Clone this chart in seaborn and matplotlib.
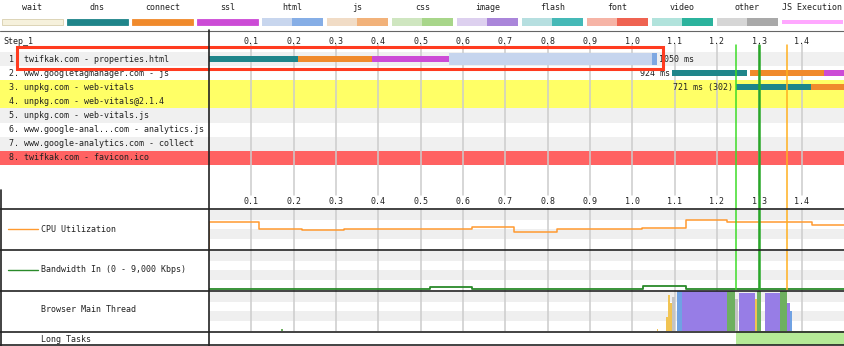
import matplotlib
matplotlib.use("Agg")
import matplotlib.pyplot as plt
import seaborn as sns
from matplotlib.patches import Rectangle
from matplotlib.lines import Line2D

# ---------------- data ----------------
legend_names = ["wait", "dns", "connect", "ssl", "html", "js", "css", "image",
                "flash", "font", "video", "other", "JS Execution"]
legend_light = ["#f6f1dc", "#1f858a", "#f08a2c", "#cc4bd6", "#c8d6ee", "#f1dcc6",
                "#cfe6c0", "#ddd0ef", "#b6dfe0", "#f6b4a6", "#b1e3dc", "#d6d6d6", "#ffa8ff"]
legend_dark = [None, None, None, None, "#86aee6", "#f2b27a", "#a8d68a", "#aa86da",
               "#45b9b7", "#ef6351", "#2bb39d", "#a9a9a9", None]

requests = ["twifkak.com - properties.html",
            "www.googletagmanager.com - js",
            "unpkg.com - web-vitals",
            "unpkg.com - web-vitals@2.1.4",
            "unpkg.com - web-vitals.js",
            "www.google-anal...com - analytics.js",
            "www.google-analytics.com - collect",
            "twifkak.com - favicon.ico"]
row_colors = ["#f0f0f0", "#ffffff", "#ffff66", "#ffff66",
              "#f0f0f0", "#ffffff", "#f0f0f0", "#ff6262"]

# waterfall segments (row index, start s, end s, kind)
seg_row = [0, 0, 0, 0, 0, 1, 1, 1, 2, 2]
seg_start = [0.000, 0.210, 0.385, 0.567, 1.047, 1.094, 1.279, 1.452, 1.246, 1.423]
seg_end = [0.210, 0.385, 0.567, 1.047, 1.058, 1.272, 1.452, 1.503, 1.423, 1.503]
seg_kind = ["dns", "connect", "ssl", "html_light", "html_dark",
            "dns", "connect", "ssl", "dns", "connect"]

bar_label_row = [0, 1, 2]
bar_label_text = ["1050 ms", "924 ms", "721 ms (302)"]
bar_label_t = [1.062, 1.088, 1.239]
bar_label_ha = ["left", "right", "right"]

tick_vals = [0.1, 0.2, 0.3, 0.4, 0.5, 0.6, 0.7, 0.8, 0.9, 1.0, 1.1, 1.2, 1.3, 1.4]
tick_labels = ["0.1", "0.2", "0.3", "0.4", "0.5", "0.6", "0.7", "0.8", "0.9",
               "1.0", "1.1", "1.2", "1.3", "1.4"]

mark_t = [1.246, 1.300, 1.366]
mark_color = ["#3ddc28", "#28a828", "#ffb020"]
mark_lw = [1.1, 1.8, 1.1]

cpu_t = [0.0, 0.0, 0.118, 0.220, 0.320, 0.622, 0.720, 0.823, 1.024, 1.127, 1.224, 1.425, 1.503]
cpu_v = [0, 67, 50, 47, 51, 54, 43, 50, 52, 72, 68, 60, 60]

bw_t = [0.0, 0.522, 0.622, 1.026, 1.127, 1.503]
bw_v = [0, 380, 0, 780, 0, 0]

mt_start = [0.170, 1.058, 1.080, 1.084, 1.088, 1.094, 1.105, 1.117, 1.224, 1.243,
            1.252, 1.290, 1.294, 1.313, 1.349, 1.366, 1.372]
mt_end = [0.174, 1.061, 1.084, 1.088, 1.093, 1.101, 1.117, 1.224, 1.243, 1.250,
          1.290, 1.294, 1.304, 1.349, 1.366, 1.372, 1.378]
mt_cat = ["paint", "script", "script", "script", "script", "other", "parse", "layout",
          "paint", "other", "layout", "script", "paint", "layout", "paint", "layout", "parse"]
mt_frac = [0.05, 0.05, 0.35, 0.9, 0.7, 0.85, 1.0, 1.0, 1.0, 0.8, 0.95, 0.8, 1.0,
           0.95, 1.0, 0.7, 0.5]

long_start = [1.246]
long_end = [1.503]

section_labels = ["CPU Utilization", "Bandwidth In (0 - 9,000 Kbps)",
                  "Browser Main Thread", "Long Tasks"]

# ---------------- style ----------------
sns.set_theme(style="white")
plt.rcParams['font.family'] = ['DejaVu Sans Mono']
FS = 6
TXT = "#222222"

kind_color = {"dns": "#1f858a", "connect": "#f08a2c", "ssl": "#cc4bd6",
              "html_light": "#c6d5ee", "html_dark": "#7ea8e2"}
kind_height = {"dns": 0.43, "connect": 0.43, "ssl": 0.43,
               "html_light": 0.85, "html_dark": 0.85}
mt_colors = {"script": "#f1c453", "layout": "#977de6", "paint": "#6eb060",
             "parse": "#70a2e3", "other": "#c4c4c4"}

W, H = 845, 346
fig = plt.figure(figsize=(W / 100, H / 100), dpi=100, facecolor="white")


def px_ax(x0, y0, x1, y1):
    ax = fig.add_axes([x0 / W, 1 - y1 / H, (x1 - x0) / W, (y1 - y0) / H])
    ax.set_xticks([])
    ax.set_yticks([])
    for s in ax.spines.values():
        s.set_visible(False)
    ax.patch.set_alpha(0)
    return ax


TMAX = (845 - 209) / 423.3
ROW_H = 14.12


def prow(ypx):
    return (ypx - 52) / ROW_H - 0.5


# ---------------- legend ----------------
leg = px_ax(0, 0, 845, 30)
leg.set_xlim(0, 845)
leg.set_ylim(30, 0)
for i, name in enumerate(legend_names):
    x0 = 2 + 65 * i
    leg.text(x0 + 30.5, 7.5, name, ha="center", va="center", fontsize=FS, color=TXT)
    if name == "JS Execution":
        leg.add_patch(Rectangle((x0, 19.5), 61, 4, color=legend_light[i], lw=0))
    elif legend_dark[i] is None:
        ec = "#d8cfae" if name == "wait" else legend_light[i]
        leg.add_patch(Rectangle((x0, 18.5), 61, 6.5, facecolor=legend_light[i],
                                edgecolor=ec, lw=0.6))
    else:
        leg.add_patch(Rectangle((x0, 18), 30.5, 7.5, color=legend_light[i], lw=0))
        leg.add_patch(Rectangle((x0 + 30.5, 18), 30.5, 7.5, color=legend_dark[i], lw=0))

# ---------------- waterfall ----------------
wf = px_ax(209, 30, 845, 208)
wf.set_xlim(0, TMAX)
wf.set_ylim(prow(208), prow(30))
lab = px_ax(0, 30, 209, 208)
lab.set_xlim(0, 209)
lab.set_ylim(prow(208), prow(30))

for i, c in enumerate(row_colors):
    wf.axhspan(i - 0.5, i + 0.5, color=c, lw=0, zorder=0)
    lab.axhspan(i - 0.5, i + 0.5, color=c, lw=0, zorder=0)
    lab.text(9, i, f"{i + 1}. {requests[i]}", ha="left", va="center",
             fontsize=FS, color=TXT)
lab.text(3, prow(42), "Step_1", ha="left", va="center", fontsize=FS, color=TXT)

for t, l in zip(tick_vals, tick_labels):
    wf.plot([t, t], [prow(44), prow(195)], color="#cccccc", lw=1.1, zorder=1)
    wf.text(t, prow(42), l, ha="center", va="center", fontsize=FS, color=TXT)
    wf.text(t, prow(201.5), l, ha="center", va="center", fontsize=FS, color=TXT)

for r, s, e, k in zip(seg_row, seg_start, seg_end, seg_kind):
    wf.barh(r, e - s, left=s, height=kind_height[k], color=kind_color[k],
            lw=0, zorder=3)

for r, txt, t, ha in zip(bar_label_row, bar_label_text, bar_label_t, bar_label_ha):
    wf.text(t, r, txt, ha=ha, va="center", fontsize=FS, color=TXT, zorder=4)

for t, c, lw in zip(mark_t, mark_color, mark_lw):
    wf.plot([t, t], [prow(45), prow(208)], color=c, lw=lw, zorder=5)

# ---------------- lower sections ----------------
cpu = px_ax(209, 208, 845, 249)
bw = px_ax(209, 249, 845, 290)
mt = px_ax(209, 290, 845, 331)
lt = px_ax(209, 331, 845, 345)
for ax in (cpu, bw, mt, lt):
    ax.set_xlim(0, TMAX)
for ax in (cpu, bw, mt):
    for f0, f1 in ((0.244, 0.488), (0.707, 0.95)):
        ax.add_patch(Rectangle((0, f0), 1, f1 - f0, transform=ax.transAxes,
                               color="#efefef", lw=0, zorder=0))
    for t in tick_vals:
        ax.axvline(t, color="#cccccc", lw=1.1, zorder=1)

cpu.set_ylim(0, 102.5)
sns.lineplot(x=cpu_t, y=cpu_v, ax=cpu, drawstyle="steps-post", color="#ff9a30",
             lw=1.1, estimator=None, sort=False, legend=False, zorder=3)
bw.set_ylim(-230, 9000)
sns.lineplot(x=bw_t, y=bw_v, ax=bw, drawstyle="steps-post", color="#2a8a2a",
             lw=1.3, estimator=None, sort=False, legend=False, zorder=3)
for ax in (cpu, bw):
    ax.set_xlabel("")
    ax.set_ylabel("")
    ax.set_xticks([])
    ax.set_yticks([])
    for t, c, lw in zip(mark_t, mark_color, mark_lw):
        ax.axvline(t, color=c, lw=lw, zorder=5)

mt.set_ylim(0, 1.03)
for s, e, c, f in zip(mt_start, mt_end, mt_cat, mt_frac):
    mt.bar(s, f, width=e - s, align="edge", color=mt_colors[c], lw=0, zorder=3)

lt.set_ylim(0, 1)
for s, e in zip(long_start, long_end):
    lt.axvspan(s, e, color="#b5ea97", lw=0)

# section labels
label_y = [229, 270, 310, 339]
for txt, y in zip(section_labels, label_y):
    fig.text(41 / W, 1 - y / H, txt, ha="left", va="center", fontsize=FS, color=TXT)
fig.add_artist(Line2D([8 / W, 38 / W], [1 - 229 / H] * 2, color="#ff9a30", lw=1.0))
fig.add_artist(Line2D([8 / W, 38 / W], [1 - 270 / H] * 2, color="#2a8a2a", lw=1.0))

# ---------------- frame lines ----------------
def hline(y, x0=0, x1=845, color="#222222", lw=1.2):
    fig.add_artist(Line2D([x0 / W, x1 / W], [1 - y / H] * 2, color=color, lw=lw))


def vline(x, y0, y1, color="#222222", lw=1.2):
    fig.add_artist(Line2D([x / W] * 2, [1 - y0 / H, 1 - y1 / H], color=color, lw=lw))


hline(30.5, color="#666666", lw=0.8)
for y in (208.5, 249.5, 290.5, 331.5, 345.3):
    hline(y)
vline(209.5, 30, 346)
vline(0.6, 190, 346)

# annotation box
fig.add_artist(Rectangle((17 / W, 1 - 69 / H), (663 - 17) / W, 22.5 / H,
                         transform=fig.transFigure, fill=False,
                         edgecolor="#ff3b1f", lw=2.2))

fig.savefig("out.png", dpi=100, facecolor="white")
